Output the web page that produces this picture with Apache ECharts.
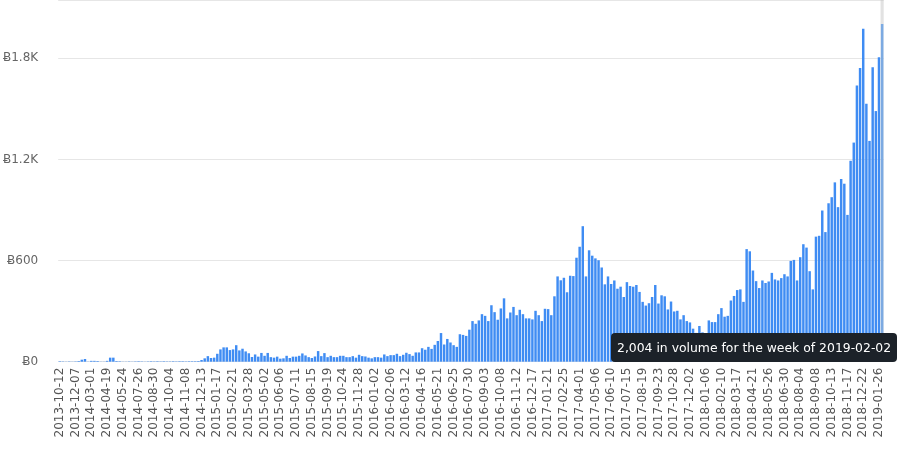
<!DOCTYPE html>
<html>
<head>
<meta charset="utf-8">
<script src="https://cdn.jsdelivr.net/npm/echarts@6/dist/echarts.min.js"></script>
<style>
html,body{margin:0;padding:0;background:#fff;}
#chart{width:900px;height:453px;}
</style>
</head>
<body>
<div id="chart"></div>
<script>
// Week categories (early period has gaps in weekly coverage)
const weeks2013_2014 = ['2013-10-12','2013-10-26','2013-11-09','2013-11-16','2013-11-30','2013-12-07','2013-12-21','2014-01-11','2014-01-25','2014-02-15',
'2014-03-01','2014-03-08','2014-03-22','2014-03-29','2014-04-12','2014-04-19','2014-04-26','2014-05-03','2014-05-10','2014-05-17',
'2014-05-24','2014-06-07','2014-06-21','2014-07-05','2014-07-19','2014-07-26','2014-08-02','2014-08-09','2014-08-16','2014-08-23',
'2014-08-30','2014-09-06','2014-09-13','2014-09-20','2014-09-27','2014-10-04','2014-10-11','2014-10-18','2014-10-25','2014-11-01',
'2014-11-08','2014-11-15','2014-11-22','2014-11-29','2014-12-06','2014-12-13','2014-12-20','2014-12-27'];
const weeks2015 = ['2015-01-03','2015-01-10','2015-01-17','2015-01-24','2015-01-31','2015-02-07','2015-02-14','2015-02-21','2015-02-28',
'2015-03-07','2015-03-14','2015-03-21','2015-03-28','2015-04-04','2015-04-11','2015-04-18','2015-04-25','2015-05-02','2015-05-09',
'2015-05-16','2015-05-23','2015-05-30','2015-06-06','2015-06-13','2015-06-20','2015-06-27','2015-07-04','2015-07-11','2015-07-18',
'2015-07-25','2015-08-01','2015-08-08','2015-08-15','2015-08-22','2015-08-29','2015-09-05','2015-09-12','2015-09-19','2015-09-26',
'2015-10-03','2015-10-10','2015-10-17','2015-10-24','2015-10-31','2015-11-07','2015-11-14','2015-11-21','2015-11-28','2015-12-05',
'2015-12-12','2015-12-19','2015-12-26'];
const weeks2016 = ['2016-01-02','2016-01-09','2016-01-16','2016-01-23','2016-01-30','2016-02-06','2016-02-13','2016-02-20','2016-02-27',
'2016-03-05','2016-03-12','2016-03-19','2016-03-26','2016-04-02','2016-04-09','2016-04-16','2016-04-23','2016-04-30','2016-05-07',
'2016-05-14','2016-05-21','2016-05-28','2016-06-04','2016-06-11','2016-06-18','2016-06-25','2016-07-02','2016-07-09','2016-07-16',
'2016-07-23','2016-07-30','2016-08-06','2016-08-13','2016-08-20','2016-08-27','2016-09-03','2016-09-10','2016-09-17','2016-09-24',
'2016-10-01','2016-10-08','2016-10-15','2016-10-22','2016-10-29','2016-11-05','2016-11-12','2016-11-19','2016-11-26','2016-12-03',
'2016-12-10','2016-12-17','2016-12-24','2016-12-31'];
const weeks2017 = ['2017-01-07','2017-01-14','2017-01-21','2017-01-28','2017-02-04','2017-02-11','2017-02-18','2017-02-25','2017-03-04',
'2017-03-11','2017-03-18','2017-03-25','2017-04-01','2017-04-08','2017-04-15','2017-04-22','2017-04-29','2017-05-06','2017-05-13',
'2017-05-20','2017-05-27','2017-06-03','2017-06-10','2017-06-17','2017-06-24','2017-07-01','2017-07-08','2017-07-15','2017-07-22',
'2017-07-29','2017-08-05','2017-08-12','2017-08-19','2017-08-26','2017-09-02','2017-09-09','2017-09-16','2017-09-23','2017-09-30',
'2017-10-07','2017-10-14','2017-10-21','2017-10-28','2017-11-04','2017-11-11','2017-11-18','2017-11-25','2017-12-02','2017-12-09',
'2017-12-16','2017-12-23','2017-12-30'];
const weeks2018_2019 = ['2018-01-06','2018-01-13','2018-01-20','2018-01-27','2018-02-03','2018-02-10','2018-02-17','2018-02-24','2018-03-03',
'2018-03-10','2018-03-17','2018-03-24','2018-03-31','2018-04-07','2018-04-14','2018-04-21','2018-04-28','2018-05-05','2018-05-12',
'2018-05-19','2018-05-26','2018-06-02','2018-06-09','2018-06-16','2018-06-23','2018-06-30','2018-07-07','2018-07-14','2018-07-21',
'2018-07-28','2018-08-04','2018-08-11','2018-08-18','2018-08-25','2018-09-01','2018-09-08','2018-09-15','2018-09-22','2018-09-29',
'2018-10-06','2018-10-13','2018-10-20','2018-10-27','2018-11-03','2018-11-10','2018-11-17','2018-11-24','2018-12-01','2018-12-08',
'2018-12-15','2018-12-22','2018-12-29','2019-01-05','2019-01-12','2019-01-19','2019-01-26','2019-02-02'];
const categories = [].concat(weeks2013_2014, weeks2015, weeks2016, weeks2017, weeks2018_2019);

// Weekly volume (BTC)
const volume = [
3, 2, 1, 2, 1, 2, 4, 12, 16, 1,
5, 5, 4, 1, 1, 5, 24, 24, 4, 3,
1, 1, 2, 1, 2, 3, 2, 1, 2, 3,
2, 3, 2, 3, 2, 2, 3, 2, 3, 3,
2, 3, 3, 3, 4, 10, 20, 33, 22, 24,
47, 73, 85, 85, 69, 73, 98, 67, 77, 61,
50, 28, 43, 30, 52, 35, 52, 27, 24, 30,
18, 20, 35, 22, 30, 30, 35, 49, 37, 27,
22, 31, 63, 33, 51, 27, 35, 27, 27, 35,
35, 27, 27, 33, 24, 41, 33, 31, 24, 20,
27, 27, 24, 43, 33, 39, 39, 47, 33, 41,
53, 45, 35, 55, 55, 80, 71, 88, 76, 100,
123, 170, 102, 135, 114, 98, 88, 163, 159, 153,
190, 241, 225, 245, 282, 272, 241, 335, 294, 249,
316, 376, 257, 292, 325, 276, 308, 282, 257, 257,
251, 302, 276, 241, 314, 312, 276, 388, 506, 483,
498, 412, 510, 508, 617, 682, 804, 506, 661, 629,
613, 602, 559, 459, 506, 461, 482, 433, 445, 384,
472, 449, 445, 455, 414, 355, 333, 347, 384, 455,
345, 394, 388, 310, 357, 298, 302, 251, 276, 241,
233, 196, 171, 212, 174, 140, 245, 235, 235, 282,
318, 267, 272, 363, 390, 425, 429, 355, 668, 655,
541, 478, 437, 482, 467, 476, 527, 488, 482, 496,
519, 506, 598, 604, 482, 620, 697, 677, 537, 429,
742, 747, 897, 769, 940, 976, 1064, 917, 1084, 1056,
871, 1192, 1300, 1638, 1743, 1975, 1530, 1310, 1747, 1487,
1806, 2004
];

const yTicks = [0, 600, 1200, 1800];
const yTickLabels = ['Ƀ0', 'Ƀ600', 'Ƀ1.2K', 'Ƀ1.8K'];

const FONT = '"DejaVu Sans", Verdana, sans-serif';
const chart = echarts.init(document.getElementById('chart'), null, {renderer: 'canvas'});
chart.setOption({
  animation: false,
  grid: {left: 56.7, right: 16.3, top: -2, bottom: 91.3, containLabel: false},
  tooltip: {
    trigger: 'axis',
    triggerOn: 'none',
    alwaysShowContent: true,
    transitionDuration: 0,
    axisPointer: {type: 'shadow', shadowStyle: {color: 'rgba(190,190,190,0.45)'}},
    backgroundColor: '#1c2229',
    borderWidth: 0,
    padding: [5, 6],
    textStyle: {color: '#ffffff', fontSize: 12.4, fontFamily: FONT},
    extraCssText: 'box-shadow:none;border-radius:4px;',
    position: function () { return [611, 333]; },
    formatter: function (params) {
      const p = params[0];
      return p.value.toLocaleString('en-US') + ' in volume for the week of ' + p.name;
    }
  },
  xAxis: {
    type: 'category',
    data: categories,
    boundaryGap: true,
    axisLine: {show: false},
    axisTick: {show: false},
    axisLabel: {interval: 4, rotate: 90, margin: 6, color: '#555', fontSize: 12, fontFamily: FONT}
  },
  yAxis: {
    type: 'value',
    min: 0,
    max: 2146,
    interval: 600,
    axisLine: {show: false},
    axisTick: {show: false},
    splitLine: {lineStyle: {color: '#e6e6e6', width: 1}},
    axisLabel: {
      margin: 20,
      color: '#666',
      fontSize: 12,
      fontFamily: FONT,
      formatter: function (v) { const k = yTicks.indexOf(v); return k >= 0 ? yTickLabels[k] : ''; }
    }
  },
  series: [{
    type: 'bar',
    data: volume,
    barCategoryGap: '22%',
    itemStyle: {color: '#3f8cf3'}
  }]
});
chart.dispatchAction({type: 'showTip', seriesIndex: 0, dataIndex: volume.length - 1});
</script>
</body>
</html>
